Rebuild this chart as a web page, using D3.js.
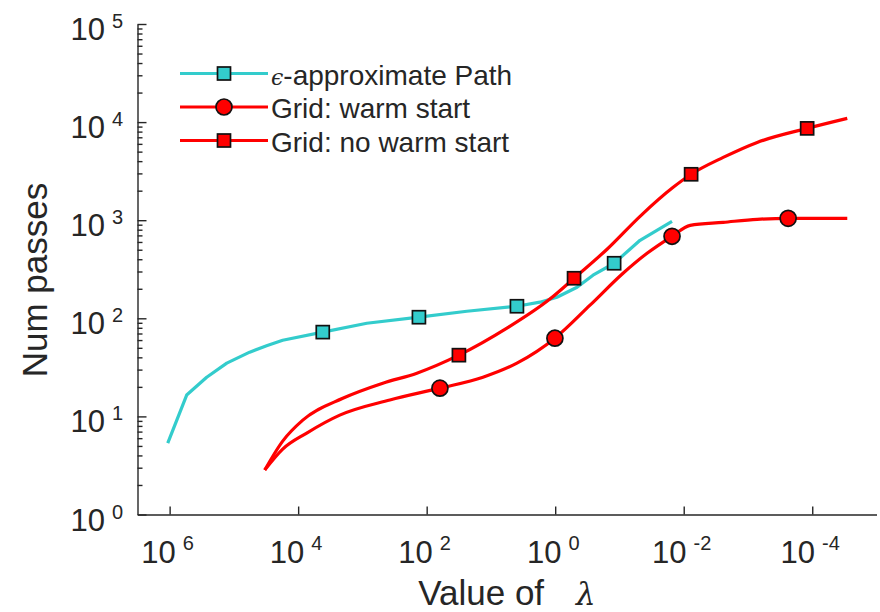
<!DOCTYPE html>
<html>
<head>
<meta charset="utf-8">
<script src="https://cdn.jsdelivr.net/npm/d3@7"></script>
<style>
  body { margin: 0; background: #fff; }
  svg { display: block; }
  text { font-family: "Liberation Sans", Arial, Helvetica, sans-serif; fill: #262626; }
</style>
</head>
<body>
<svg id="chart" width="880" height="612"></svg>
<script>
// epsilon-approximate path
const pathLambda = [1.07e6, 5.43e5, 2.65e5, 1.29e5, 5.68e4, 3.1e4, 1.74e4, 4.14e3, 853, 132, 23.7, 3.94, 1.73, 0.94, 0.457, 0.258, 0.121, 0.0478, 0.0152];
const pathPasses = [5.35, 16.5, 25.1, 34.9, 45.2, 52.5, 59.8, 72.3, 89.1, 102.6, 118, 132.7, 146, 164, 207, 275, 364, 624, 975];
const pathMarks = [7, 9, 11, 16];

// grid with warm start
const warmLambda = [3.31e4, 1.74e4, 7.35e3, 2.25e3, 374, 62.2, 13.3, 3.94, 1.01, 0.287, 0.0879, 0.0372, 0.0152, 0.00794, 0.00243, 7.19e-4, 2.37e-4, 2.85e-5];
const warmPasses = [2.84, 4.64, 6.76, 10.3, 14.7, 19.4, 25.1, 34.9, 62.7, 136, 288, 460, 685, 887, 951, 1021, 1045, 1045];
const warmMarks = [5, 8, 12, 16];

// grid without warm start
const coldLambda = [3.31e4, 1.74e4, 8.47e3, 2.02e3, 481, 142, 31.5, 5.64, 1.21, 0.509, 0.156, 0.0478, 0.0146, 0.00767, 0.00243, 7.19e-4, 1.20e-4, 2.85e-5];
const coldPasses = [2.84, 5.6, 9.16, 15.3, 21.8, 27.6, 42.1, 79.3, 157, 256, 506, 1096, 2163, 2938, 4365, 6209, 8630, 10914];
const coldMarks = [6, 9, 13, 16];

// axis tick exponents
const xTickExps = [6, 4, 2, 0, -2, -4];
const yTickExps = [0, 1, 2, 3, 4, 5];

const seriesNames = ["-approximate Path", "Grid: warm start", "Grid: no warm start"];

const series = [
  { name: seriesNames[0], lambda: pathLambda, passes: pathPasses, marks: pathMarks, color: "#33cccc", marker: "square", eps: true, curve: d3.curveLinear },
  { name: seriesNames[1], lambda: warmLambda, passes: warmPasses, marks: warmMarks, color: "#ff0000", marker: "circle", curve: d3.curveMonotoneX },
  { name: seriesNames[2], lambda: coldLambda, passes: coldPasses, marks: coldMarks, color: "#ff0000", marker: "square", curve: d3.curveMonotoneX }
];

const svg = d3.select("#chart");
const plotLeft = 137.5, plotRight = 876.5, plotTop = 24, plotBottom = 514.5;
const axisColor = "#262626";

const x = d3.scaleLog().domain([Math.pow(10, 6.5), 1e-5]).range([plotLeft, plotRight]);
const y = d3.scaleLog().domain([1, 1e5]).range([plotBottom, plotTop]);

// y axis: major and minor ticks pointing inward
const yMajor = yTickExps.map(e => Math.pow(10, e));
const yMinor = [];
for (let e = 0; e < 5; e++) for (let m = 2; m <= 9; m++) yMinor.push(m * Math.pow(10, e));

const gy = svg.append("g").attr("transform", `translate(${plotLeft},0)`);
gy.call(d3.axisLeft(y).tickValues(yMajor).tickSizeInner(-9).tickSizeOuter(0).tickFormat(""));
const gyMinor = svg.append("g").attr("transform", `translate(${plotLeft},0)`);
gyMinor.call(d3.axisLeft(y).tickValues(yMinor).tickSizeInner(-5).tickSizeOuter(0).tickFormat(""));
gyMinor.select(".domain").remove();

// x axis
const xMajor = xTickExps.map(e => Math.pow(10, e));
const gx = svg.append("g").attr("transform", `translate(0,${plotBottom})`);
gx.call(d3.axisBottom(x).tickValues(xMajor).tickSizeInner(-8).tickSizeOuter(0).tickFormat(""));

svg.selectAll(".domain, .tick line").attr("stroke", axisColor).attr("stroke-width", 1.4);

// tick labels as 10 with superscript exponent
yTickExps.forEach(e => {
  const t = svg.append("text")
    .attr("x", 123)
    .attr("y", y(Math.pow(10, e)) + 16)
    .attr("text-anchor", "end")
    .attr("font-size", 31);
  t.append("tspan").text("10");
  t.append("tspan").attr("dx", 7).attr("dy", -12).attr("font-size", 20).text(String(e));
});
xTickExps.forEach(e => {
  const t = svg.append("text")
    .attr("x", x(Math.pow(10, e)) - 2)
    .attr("y", plotBottom + 48.5)
    .attr("text-anchor", "middle")
    .attr("font-size", 31);
  t.append("tspan").text("10");
  t.append("tspan").attr("dx", 7).attr("dy", -13).attr("font-size", 20).text(String(e));
});

// axis titles
const xt = svg.append("text")
  .attr("x", (plotLeft + plotRight) / 2)
  .attr("y", 605)
  .attr("text-anchor", "middle")
  .attr("font-size", 35);
xt.append("tspan").text("Value of");
xt.append("tspan").attr("dx", 32).attr("font-family", "DejaVu Serif").attr("font-style", "italic").attr("font-size", 31).text("λ");

svg.append("text")
  .attr("transform", "translate(47,280) rotate(-90)")
  .attr("text-anchor", "middle")
  .attr("font-size", 35)
  .text("Num passes");

// lines and markers
function drawMarker(g, type, cx, cy, color) {
  if (type === "square") {
    g.append("rect")
      .attr("x", cx - 6.5).attr("y", cy - 6.5)
      .attr("width", 13).attr("height", 13)
      .attr("fill", color).attr("stroke", "#111").attr("stroke-width", 1.7);
  } else {
    g.append("circle")
      .attr("cx", cx).attr("cy", cy).attr("r", 8)
      .attr("fill", color).attr("stroke", "#111").attr("stroke-width", 1.7);
  }
}

series.forEach(s => {
  const pts = s.lambda.map((l, i) => [l, s.passes[i]]);
  const line = d3.line()
    .x(d => x(d[0]))
    .y(d => y(d[1]))
    .curve(s.curve);
  const g = svg.append("g");
  g.append("path")
    .attr("d", line(pts))
    .attr("fill", "none")
    .attr("stroke", s.color)
    .attr("stroke-width", 3.2)
    .attr("stroke-linejoin", "round");
  s.marks.forEach(i => drawMarker(g, s.marker, x(pts[i][0]), y(pts[i][1]), s.color));
});

// legend
const legendRows = [73.5, 107, 140.5];
series.forEach((s, i) => {
  const g = svg.append("g");
  const ly = legendRows[i];
  g.append("line")
    .attr("x1", 180).attr("x2", 268).attr("y1", ly).attr("y2", ly)
    .attr("stroke", s.color).attr("stroke-width", 3.2);
  drawMarker(g, s.marker, 224, ly, s.color);
  const t = g.append("text")
    .attr("x", 271)
    .attr("y", ly + 11)
    .attr("font-size", 28);
  if (s.eps) {
    t.append("tspan").attr("font-family", "DejaVu Serif").attr("font-style", "italic").attr("font-size", 22).text("ϵ");
  }
  t.append("tspan").text(s.name);
});
</script>
</body>
</html>
